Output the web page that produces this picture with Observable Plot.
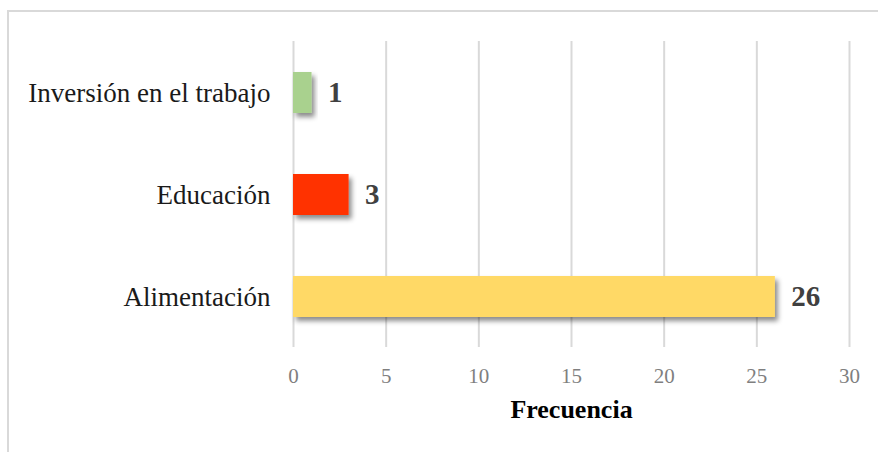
<!DOCTYPE html>
<html>
<head>
<meta charset="utf-8">
<script src="https://cdn.jsdelivr.net/npm/d3@7"></script>
<script src="https://cdn.jsdelivr.net/npm/@observablehq/plot@0.6"></script>
<style>
  html, body { margin: 0; padding: 0; background: #fff; }
  #wrap { position: relative; width: 878px; height: 452px; overflow: hidden; }
  #frame { position: absolute; left: 7px; top: 10px; width: 880px; height: 450px;
           border-top: 2px solid #d9d9d9; border-left: 2px solid #d9d9d9; pointer-events: none; }
  #chart { position: absolute; left: 0; top: 0; }
</style>
</head>
<body>
<div id="wrap"><div id="chart"></div><div id="frame"></div></div>
<script>
const categories = ["Inversión en el trabajo", "Educación", "Alimentación"];
const values = [1, 3, 26];
const colors = ["#a9d18e", "#ff3300", "#ffd966"];
const xTicks = [0, 5, 10, 15, 20, 25, 30];
const xLabel = "Frecuencia";

const data = categories.map((c, i) => ({category: c, value: values[i], color: colors[i]}));

const chart = Plot.plot({
  width: 878,
  height: 452,
  marginLeft: 293,
  marginRight: 29,
  marginTop: 41,
  marginBottom: 105,
  style: {fontFamily: "'Liberation Serif', serif", background: "transparent", color: "#000"},
  x: {domain: [0, 30], ticks: xTicks},
  y: {domain: categories, paddingInner: 0.6, paddingOuter: 0.3},
  marks: [
    Plot.gridX(xTicks, {stroke: "#d9d9d9", strokeWidth: 2, strokeOpacity: 1}),
    Plot.barX(data, {x: "value", y: "category", fill: "color"}),
    Plot.text(data, {x: "value", y: "category", text: d => String(d.value), textAnchor: "start",
      dx: 16, fontWeight: "bold", fontSize: 29, fill: "#404040"}),
    Plot.axisX(xTicks, {tickSize: 0, tickPadding: 21, fontSize: 21, fill: "#7f7f7f", label: null}),
    Plot.axisY({tickSize: 0, tickPadding: 23, fontSize: 27, fill: "#1a1a1a", label: null}),
    Plot.text([xLabel], {frameAnchor: "bottom", dy: 70, fontWeight: "bold", fontSize: 26, fill: "#000"})
  ]
});

// drop shadow for bars
const svg = d3.select(chart);
const defs = svg.insert("defs", ":first-child");
const f = defs.append("filter").attr("id", "shadow").attr("x", "-20%").attr("y", "-30%").attr("width", "150%").attr("height", "180%");
f.append("feDropShadow").attr("dx", 3).attr("dy", 4).attr("stdDeviation", 2.5)
  .attr("flood-color", "#000").attr("flood-opacity", 0.45);
svg.selectAll("g[aria-label='bar'] rect").attr("filter", "url(#shadow)");

document.getElementById("chart").appendChild(chart);
</script>
</body>
</html>
